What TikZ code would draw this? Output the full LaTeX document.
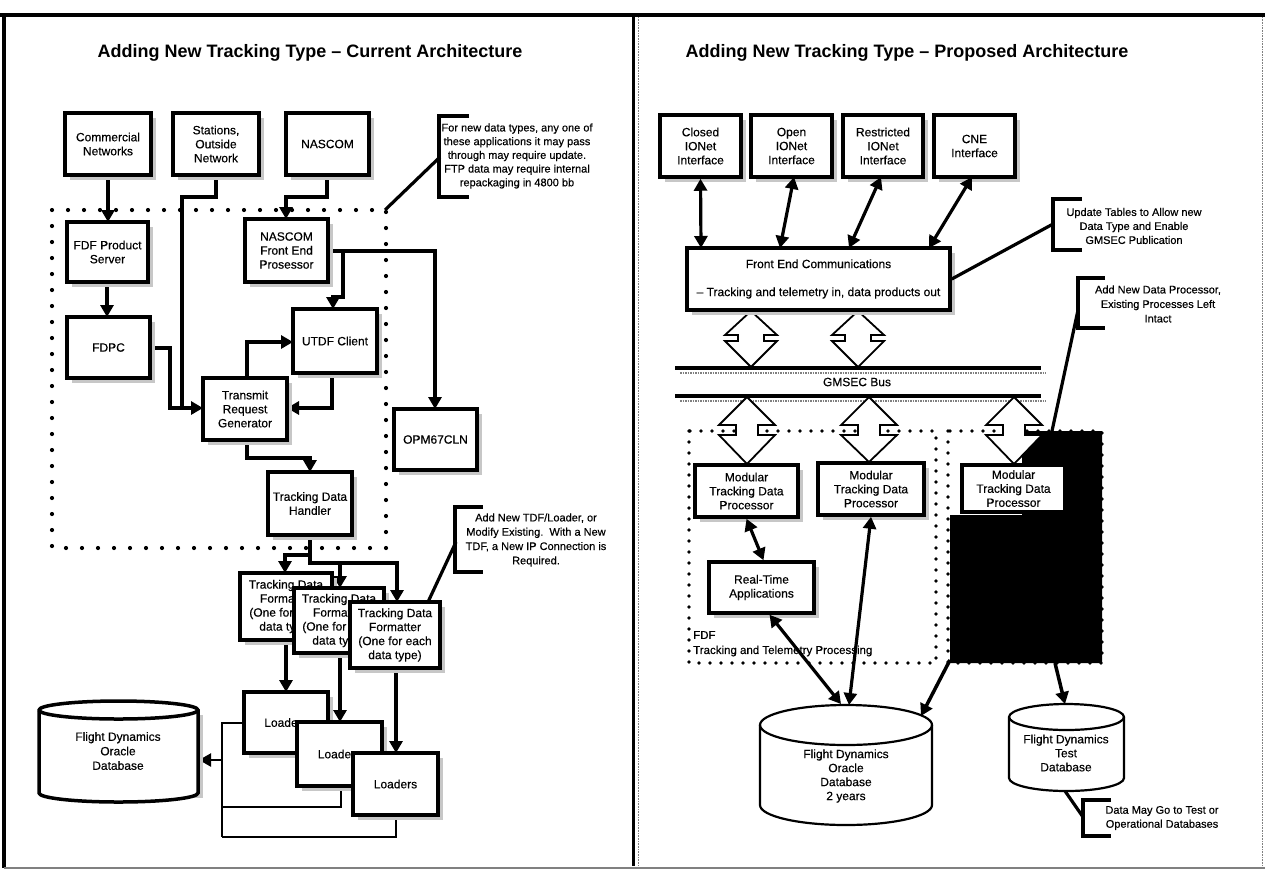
\documentclass[tikz,border=0pt]{standalone}
\usepackage{fontspec}
\setmainfont{Liberation Sans}
\newfontfamily\heavyfont[FakeBold=0.35]{Liberation Sans}
\usetikzlibrary{arrows.meta,shadows}
\newcommand\mybox[6]{\node[box, minimum width={#4-#2}, minimum height={#5-#3}] (#1) at ({(#2+#4)/2},{(#3+#5)/2}) {#6};}
\newcommand\myboxns[6]{\node[boxns, minimum width={#4-#2}, minimum height={#5-#3}] (#1) at ({(#2+#4)/2},{(#3+#5)/2}) {#6};}
\newcommand\blockarr[7]{\draw[block] (#1,#2) -- ({#1+#6},#4) -- ({#1+#7},#4) -- ({#1+#7},#5) -- ({#1+#6},#5) -- (#1,#3) -- ({#1-#6},#5) -- ({#1-#7},#5) -- ({#1-#7},#4) -- ({#1-#6},#4) -- cycle;}
\newcommand\mycyl[6]{%
  \draw[line width=#6, fill=white] (#1,#3) -- (#1,#4) arc[start angle=180,end angle=0,x radius={(#2-#1)/2},y radius=#5] -- (#2,#3) arc[start angle=0,end angle=-180,x radius={(#2-#1)/2},y radius=#5] -- cycle;
  \draw[line width=#6] (#1,#3) arc[start angle=180,end angle=0,x radius={(#2-#1)/2},y radius=#5];}
\begin{document}
\begin{tikzpicture}[x=1pt,y=-1pt,
  boxns/.style={draw, line width=3.5pt, fill=white, align=center, inner sep=1pt, font=\heavyfont\fontsize{12}{14}\selectfont},
  box/.style={boxns, drop shadow={shadow xshift=5pt, shadow yshift=-5pt, fill=black!22, opacity=1}},
  conn/.style={line width=3.5pt, -{Triangle[length=12pt,width=13pt]}},
  dconn/.style={line width=3.2pt, {Triangle[length=12pt,width=13pt]}-{Triangle[length=12pt,width=13pt]}},
  thinline/.style={line width=2.2pt},
  plainline/.style={line width=3.2pt},
  note/.style={align=center, font=\heavyfont\fontsize{11}{13.7}\selectfont, inner sep=0pt},
  bracket/.style={line width=3.8pt},
  bigdots/.style={line width=4.2pt, line cap=round, dash pattern=on 0pt off 16pt},
  smalldots/.style={line width=3.6pt, line cap=round, dash pattern=on 0pt off 11pt},
  titletext/.style={font=\fontsize{18}{20}\selectfont\bfseries, inner sep=0pt},
  label/.style={font=\heavyfont\fontsize{12}{14}\selectfont, align=center, inner sep=0pt},
  block/.style={draw, line width=1.8pt, fill=white, line join=miter}
]
\useasboundingbox (0,0) rectangle (1265,871);
\fill[white] (0,0) rectangle (1265,871);

% frame
\draw[line width=4pt] (0,15) -- (1265,15);
\draw[line width=4pt] (4,13) -- (4,868);
\draw[line width=3pt] (633,15) -- (633,866);
\draw[gray, line width=1.5pt] (4,868) -- (1265,868);
\draw[gray, densely dotted, line width=0.6pt] (638,17) -- (638,866);
\draw[gray, densely dotted, line width=0.6pt] (1262,17) -- (1262,866);

% titles
\node[titletext] (t1) at (310,53) {Adding New Tracking Type – Current Architecture};
\node[titletext] (t2) at (907,53) {Adding New Tracking Type – Proposed Architecture};

% ================= LEFT PANEL =================
\draw[bigdots] (52,210) rectangle (386,548);

% annotation 1
\draw[bracket] (469,116) -- (439,116) -- (439,197) -- (469,197);
\node[note] (n1) at (517,156) {For new data types, any one of\\these applications it may pass\\through may require update.\\FTP data may require internal\\repackaging in 4800 bb};
\coordinate (b1p) at (440,157);
\coordinate (dcorner) at (385,210);
\draw[plainline] (b1p) -- (dcorner);

% annotation 2
\draw[bracket] (483,507) -- (455,507) -- (455,572) -- (483,572);
\node[note, font=\heavyfont\fontsize{11}{14.3}\selectfont] (n2) at (536,540) {Add New TDF/Loader, or\\Modify Existing.\ \ With a New\\TDF, a New IP Connection is\\Required.};
\coordinate (b2p) at (456,542);
\coordinate (f3tr) at (428,602);
\draw[plainline] (b2p) -- (f3tr);

% connectors (left)
\coordinate (j1) at (182,408);
\draw[conn] (108,175) -- (108,222);
\draw[plainline] (216,175) -- (216,197) -- (182,197) -- (j1);
\draw[conn] (327,175) -- (327,197) -- (286,197) -- (286,219);
\draw[conn] (107,282) -- (107,317);
\draw[conn] (150,348) -- (170,348) -- (170,408) -- (203,408);
\draw[conn] (328,251) -- (343,251) -- (343,297) -- (333,297) -- (333,309);
\draw[conn] (343,251) -- (435,251) -- (435,409);
\draw[conn] (247,378) -- (247,342) -- (293,342);
\draw[conn] (332,373) -- (332,408) -- (287,408);
\draw[conn] (247,440) -- (247,458) -- (310,458) -- (310,472);
\draw[conn] (310,535) -- (310,555) -- (285,555) -- (285,573);
\draw[conn] (310,555) -- (310,563) -- (340,563) -- (340,588);
\draw[conn] (340,563) -- (397,563) -- (397,602);
\draw[conn] (286,640) -- (286,692);
\draw[conn] (340,653) -- (340,722);
\draw[conn] (396,668) -- (396,753);
\draw[thinline] (244,723) -- (222,723) -- (222,837);
\draw[thinline, -{Triangle[length=12pt,width=13pt]}] (222,760) -- (199,760);
\draw[thinline] (341,786) -- (341,807) -- (222,807);
\draw[thinline] (396,815) -- (396,837) -- (222,837);

% boxes (left)
\mybox{cn}{65}{113}{151}{175}{Commercial\\Networks}
\mybox{st}{173}{113}{259}{175}{Stations,\\Outside\\Network}
\mybox{na}{286}{113}{369}{175}{NASCOM}
\mybox{fps}{67}{222}{148}{282}{FDF Product\\Server}
\mybox{fdpc}{67}{317}{150}{378}{FDPC}
\mybox{nfep}{245}{219}{328}{282}{NASCOM\\Front End\\Prosessor}
\mybox{utdf}{293}{309}{377}{373}{UTDF Client}
\mybox{trg}{203}{378}{287}{440}{Transmit\\Request\\Generator}
\mybox{opm}{394}{409}{477}{470}{OPM67CLN}
\mybox{tdh}{268}{472}{352}{535}{Tracking Data\\Handler}
\mybox{f1}{240}{573}{332}{640}{Tracking Data\\Formatter\\(One for each\\data type)}
\mybox{f2}{294}{588}{384}{653}{Tracking Data\\Formatter\\(One for each\\data type)}
\mybox{f3}{350}{602}{440}{668}{Tracking Data\\Formatter\\(One for each\\data type)}
\mybox{l1}{244}{692}{328}{753}{Loaders}
\mybox{l2}{297}{722}{382}{786}{Loaders}
\mybox{l3}{353}{753}{438}{815}{Loaders}

% left database
\fill[black!22] (44,715) rectangle (203,798);
\mycyl{39}{198}{710}{793}{9}{3.5pt}
\node[label, font=\heavyfont\fontsize{12}{14.5}\selectfont] (db1) at (118,751) {Flight Dynamics\\Oracle\\Database};

% ================= RIGHT PANEL =================
\draw[smalldots] (689,431) rectangle (936,663);
\fill[black] (1022,431) -- (1102,431) -- (1102,663) -- (950,663) -- (950,515) -- (1022,515) -- cycle;
\draw[smalldots] (948,431) rectangle (1102,663);
\node[anchor=west, inner sep=0pt, font=\heavyfont\fontsize{11.5}{13}\selectfont] (fdf1) at (693,635) {FDF};
\node[anchor=west, inner sep=0pt, font=\heavyfont\fontsize{11.5}{13}\selectfont] (fdf2) at (693,651) {Tracking and Telemetry Processing};

% bus
\draw[gray, densely dotted, line width=1.5pt] (680,373) -- (1046,373);
\draw[gray, densely dotted, line width=1.5pt] (680,401) -- (1046,401);
\draw[line width=3.2pt] (675,368) -- (1041,368);
\draw[line width=3.2pt] (675,396) -- (1041,396);
\node[label] (gb) at (857,382) {GMSEC Bus};

% block arrows
\blockarr{751}{311}{367}{335}{341}{26}{13}
\blockarr{858}{311}{367}{335}{341}{26}{13}
\blockarr{747}{397}{464}{425}{435}{28}{11}
\blockarr{869}{397}{462}{425}{435}{28}{11}
\blockarr{1014}{397}{464}{425}{435}{28}{11}

% annotations right
\draw[bracket] (1082,199) -- (1053,199) -- (1053,250) -- (1082,250);
\node[note, font=\heavyfont\fontsize{11}{14}\selectfont] (n3) at (1134,226) {Update Tables to Allow new\\Data Type and Enable\\GMSEC Publication};
\draw[bracket] (1105,278) -- (1078,278) -- (1078,328) -- (1105,328);
\node[note, font=\heavyfont\fontsize{11}{14.5}\selectfont] (n4) at (1158,304) {Add New Data Processor,\\Existing Processes Left\\Intact};
\draw[bracket] (1111,800) -- (1083,800) -- (1083,836) -- (1111,836);
\node[note, font=\heavyfont\fontsize{11}{14}\selectfont] (n5) at (1162,818) {Data May Go to Test or\\Operational Databases};

% boxes right
\mybox{ci}{660}{115}{741}{177}{Closed\\IONet\\Interface}
\mybox{oi}{751}{115}{832}{177}{Open\\IONet\\Interface}
\mybox{ri}{843}{115}{923}{177}{Restricted\\IONet\\Interface}
\mybox{cne}{934}{115}{1015}{177}{CNE\\Interface}
\mybox{fec}{687}{248}{950}{310}{Front End Communications\\[14pt]– Tracking and telemetry in, data products out}
\mybox{m1}{695}{465}{798}{517}{Modular\\Tracking Data\\Processor}
\mybox{m2}{818}{463}{924}{515}{Modular\\Tracking Data\\Processor}
\myboxns{m3}{962}{465}{1065}{512}{Modular\\Tracking Data\\Processor}
\mybox{rta}{709}{562}{814}{613}{Real-Time\\Applications}

% databases right
\mycyl{760}{932}{725}{805}{20}{2.2pt}
\node[label] (db2) at (846,776) {Flight Dynamics\\Oracle\\Database\\2 years};
\mycyl{1009}{1124}{717}{778}{13}{2.2pt}
\node[label] (db3) at (1066,753) {Flight Dynamics\\Test\\Database};

% connectors right
\coordinate (fa1) at (701,248);
\coordinate (fa2) at (780,248);
\coordinate (fa3) at (849,248);
\coordinate (fa4) at (929,248);
\coordinate (ua2) at (794,177);
\coordinate (ua3) at (881,177);
\coordinate (ua4) at (972,177);
\draw[dconn] (ci.south) -- (fa1);
\draw[dconn] (ua2) -- (fa2);
\draw[dconn] (ua3) -- (fa3);
\draw[dconn] (ua4) -- (fa4);
\coordinate (dbt1) at (841,704);
\coordinate (dbt2) at (849,705);
\coordinate (dbt3) at (921,716);
\coordinate (tdbt) at (1065,704);
\coordinate (bk1) at (950,660);
\coordinate (bk2) at (1055,663);
\coordinate (bkt) at (1052,431);
\coordinate (tdbb) at (1065,791);
\draw[dconn] (m1.south) -- ([xshift=2pt]rta.north);
\draw[dconn] ([xshift=8pt]rta.south) -- (dbt1);
\draw[dconn] (m2.south) -- (dbt2);
\draw[conn] (bk1) -- (dbt3);
\draw[conn] (bk2) -- (tdbt);
\draw[plainline] (fec.east) -- (1053,224);
\draw[plainline] (1078,310) -- (bkt);
\draw[plainline] (tdbb) -- (1083,817);
\end{tikzpicture}
\end{document}
